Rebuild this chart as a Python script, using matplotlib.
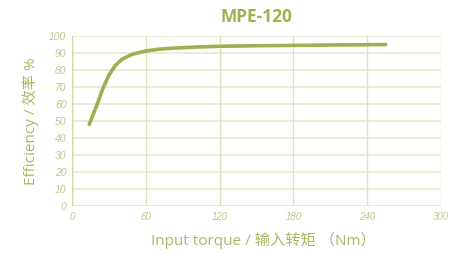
import numpy as np
import matplotlib.pyplot as plt

torque = [14, 20, 25, 30, 35, 40, 45, 50, 60, 70, 80, 100, 120, 150, 180, 220, 255]
efficiency = [48, 59, 69, 77, 82.5, 86, 88, 89.5, 91.2, 92.2, 92.8, 93.5, 94.0, 94.3, 94.5, 94.8, 95.0]
xticks = [0, 60, 120, 180, 240, 300]
yticks = list(range(0, 101, 10))

line_color = "#a3ad52"
label_color = "#a9b866"
tick_color = "#c2c690"
fonts = ["Open Sans", "Noto Sans CJK SC", "DejaVu Sans"]

fig = plt.figure(figsize=(4.75, 2.54), dpi=100)
ax = fig.add_axes([0.1516, 0.189, 0.7768, 0.669])

ax.plot(torque, efficiency, color=line_color, lw=2.6, solid_capstyle="round", zorder=3)

ax.set_xlim(0, 300)
ax.set_ylim(0, 100)
ax.set_xticks(xticks)
ax.set_yticks(yticks)
ax.set_xticklabels([str(t) for t in xticks], fontstyle="italic", family="Liberation Sans",
                   fontsize=7, color=tick_color)
ax.set_yticklabels([str(t) for t in yticks], fontstyle="italic", family="Liberation Sans",
                   fontsize=7.5, color=tick_color)
ax.tick_params(length=0, pad=4)

for y in yticks:
    ax.axhline(y, color="#e6e9cf", lw=1.2, zorder=1)
for x in xticks:
    ax.axvline(x, color="#dfe2b8", lw=1.0, zorder=1)
for s in ax.spines.values():
    s.set_visible(False)
ax.axvline(0, color="#d4d8a6", lw=1.0, zorder=2)
ax.axhline(0, color="#d4d8a6", lw=1.0, zorder=2)

fig.text(0.54, 0.935, "MPE-120", ha="center", va="center", fontsize=12.5, fontweight="bold",
         color="#a4ad50", family=fonts)
ax.set_ylabel("Efficiency / 效率 %", fontsize=11, color=label_color, family=fonts)
ax.set_xlabel("Input torque / 输入转矩 （Nm）", fontsize=11, color=label_color, family=fonts)
ax.yaxis.set_label_coords(-0.089, 0.5)
ax.xaxis.set_label_coords(0.518, -0.15)

fig.savefig("out.png", dpi=100)
